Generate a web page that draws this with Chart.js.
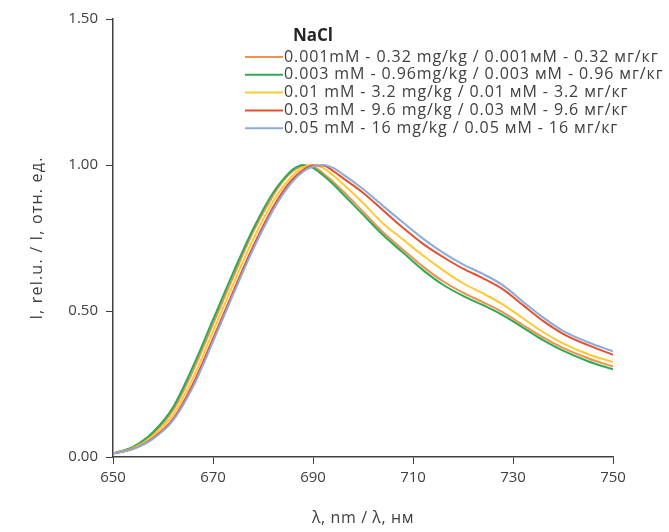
<!DOCTYPE html>
<html>
<head>
<meta charset="utf-8">
<script src="https://cdn.jsdelivr.net/npm/chart.js@4"></script>
<style>
    html, body { margin: 0; padding: 0; background: #ffffff; }
    #wrap { width: 669px; height: 532px; position: relative; }
</style>
</head>
<body>
<div id="wrap"><canvas id="spectraChart" width="669" height="532"></canvas></div>
<script>
// Emission spectra, NaCl series (normalized intensity)
const wavelengths = [650, 654, 658, 662, 666, 670, 674, 678, 682, 684, 686, 688, 690, 692, 694, 696, 700, 704, 708, 712, 716, 720, 724, 728, 732, 736, 740, 745, 750];

const series001 = [0.012, 0.033, 0.080, 0.160, 0.295, 0.455, 0.615, 0.770, 0.895, 0.945, 0.980, 0.997, 0.995, 0.972, 0.943, 0.910, 0.840, 0.770, 0.710, 0.652, 0.602, 0.563, 0.530, 0.495, 0.452, 0.410, 0.374, 0.338, 0.310];
const series003 = [0.012, 0.035, 0.085, 0.170, 0.310, 0.470, 0.630, 0.780, 0.905, 0.950, 0.985, 1.000, 0.990, 0.965, 0.935, 0.900, 0.830, 0.760, 0.700, 0.640, 0.590, 0.552, 0.520, 0.485, 0.443, 0.400, 0.364, 0.328, 0.300];
const series01  = [0.012, 0.030, 0.072, 0.145, 0.270, 0.430, 0.590, 0.745, 0.875, 0.925, 0.965, 0.992, 1.000, 0.990, 0.965, 0.935, 0.870, 0.800, 0.745, 0.690, 0.640, 0.595, 0.560, 0.522, 0.475, 0.428, 0.389, 0.352, 0.325];
const series03  = [0.012, 0.028, 0.065, 0.130, 0.250, 0.405, 0.565, 0.720, 0.855, 0.910, 0.953, 0.983, 0.998, 0.998, 0.980, 0.955, 0.905, 0.845, 0.785, 0.730, 0.685, 0.645, 0.612, 0.574, 0.520, 0.466, 0.422, 0.383, 0.350];
const series05  = [0.012, 0.027, 0.062, 0.125, 0.240, 0.395, 0.555, 0.710, 0.845, 0.900, 0.945, 0.977, 0.995, 1.000, 0.990, 0.968, 0.918, 0.860, 0.803, 0.748, 0.700, 0.660, 0.627, 0.588, 0.532, 0.478, 0.432, 0.393, 0.362];

const seriesLabels = [
    '0.001mM - 0.32 mg/kg / 0.001мМ - 0.32 мг/кг',
    '0.003 mM - 0.96mg/kg / 0.003 мМ - 0.96 мг/кг',
    '0.01 mM - 3.2 mg/kg / 0.01 мМ - 3.2 мг/кг',
    '0.03 mM - 9.6 mg/kg / 0.03 мМ - 9.6 мг/кг',
    '0.05 mM - 16 mg/kg / 0.05 мМ - 16 мг/кг'
];
const seriesColors = ['#f0904a', '#2eaa57', '#ffc933', '#e5502e', '#8eaadb'];
const allSeries = [series001, series003, series01, series03, series05];

const yTicks = [0, 0.5, 1.0, 1.5];
const xTicks = [650, 670, 690, 710, 730, 750];

const xTitle = 'λ, nm / λ, нм';
const yTitle = 'I, rel.u. / I, отн. ед.';
const chartTitle = 'NaCl';

const FONT = "'Open Sans', sans-serif";
const TEXT = '#404040';

const datasets = allSeries.map((vals, i) => ({
    label: seriesLabels[i],
    data: vals.map((v, k) => ({ x: wavelengths[k], y: v })),
    borderColor: seriesColors[i],
    borderWidth: 2,
    pointRadius: 0,
    fill: false,
    cubicInterpolationMode: 'monotone',
    order: allSeries.length - i
}));

// Title, axis titles and legend drawn by hand so they can sit where they belong
const overlayText = {
    id: 'overlayText',
    afterDraw(chart) {
        const ctx = chart.ctx;
        const area = chart.chartArea;
        ctx.save();
        ctx.textBaseline = 'middle';

        ctx.fillStyle = '#262626';
        ctx.font = `bold 17px ${FONT}`;
        ctx.textAlign = 'center';
        ctx.fillText(chartTitle, 313, 36);

        // axis titles
        ctx.fillStyle = TEXT;
        ctx.font = `16px ${FONT}`;
        ctx.letterSpacing = '0.6px';
        ctx.fillText(xTitle, (area.left + area.right) / 2, 518);
        ctx.save();
        ctx.translate(37, (area.top + area.bottom) / 2);
        ctx.rotate(-Math.PI / 2);
        ctx.letterSpacing = '1.2px';
        ctx.fillText(yTitle, 0, 0);
        ctx.restore();

        // legend
        ctx.font = `16px ${FONT}`;
        ctx.letterSpacing = '0.9px';
        ctx.textAlign = 'left';
        chart.data.datasets.forEach((ds, i) => {
            const y = 57 + i * 17.8;
            ctx.strokeStyle = ds.borderColor;
            ctx.lineWidth = 2;
            ctx.beginPath();
            ctx.moveTo(245, y);
            ctx.lineTo(283, y);
            ctx.stroke();
            ctx.fillStyle = TEXT;
            ctx.fillText(ds.label, 284, y);
        });
        ctx.restore();
    }
};

new Chart(document.getElementById('spectraChart'), {
    type: 'line',
    data: { datasets },
    options: {
        responsive: false,
        animation: false,
        layout: { padding: { top: 19, right: 56, left: 0, bottom: 0 } },
        plugins: {
            legend: { display: false },
            tooltip: { enabled: false }
        },
        scales: {
            x: {
                type: 'linear',
                min: 650,
                max: 750,
                afterFit: (scale) => { scale.height = 75; },
                afterBuildTicks: (scale) => { scale.ticks = xTicks.map(v => ({ value: v })); },
                grid: { drawOnChartArea: false, tickLength: 7, color: '#404040', tickWidth: 1 },
                border: { color: '#404040', width: 1.5 },
                ticks: { color: TEXT, font: { family: FONT, size: 15 }, padding: 5 }
            },
            y: {
                min: 0,
                max: 1.5,
                afterFit: (scale) => { scale.width = 113; },
                afterBuildTicks: (scale) => { scale.ticks = yTicks.map(v => ({ value: v })); },
                grid: { drawOnChartArea: false, tickLength: 7, color: '#404040', tickWidth: 1 },
                border: { color: '#404040', width: 1.5 },
                ticks: {
                    color: TEXT,
                    font: { family: FONT, size: 15 },
                    padding: 8,
                    callback: (v) => Number(v).toFixed(2)
                }
            }
        }
    },
    plugins: [overlayText]
});
</script>
</body>
</html>
